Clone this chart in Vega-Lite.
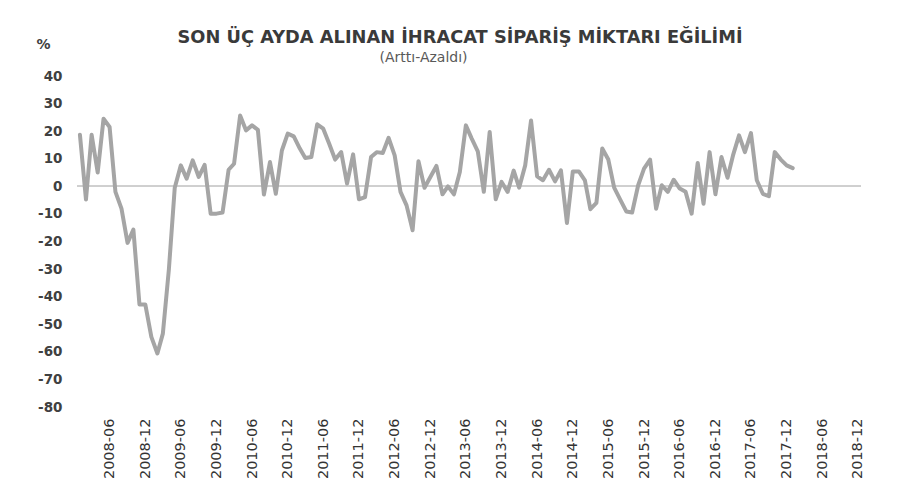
{
  "$schema": "https://vega.github.io/schema/vega-lite/v6.json",
  "width": 784,
  "height": 331,
  "autosize": {"type": "none"},
  "padding": {"left": 77, "top": 76, "right": 38, "bottom": 78},
  "background": "white",
  "title": {
    "text": "SON ÜÇ AYDA ALINAN İHRACAT SİPARİŞ MİKTARI EĞİLİMİ",
    "font": "DejaVu Sans",
    "fontSize": 17.8,
    "fontWeight": "bold",
    "color": "#3a3a3a",
    "anchor": "middle",
    "frame": "group",
    "dx": -9,
    "offset": -10
  },
  "data": {
    "values": [
      {"ay": "2008-01-01", "deger": 18.7}, {"ay": "2008-02-01", "deger": -4.8}, {"ay": "2008-03-01", "deger": 18.7}, {"ay": "2008-04-01", "deger": 5.0},
      {"ay": "2008-05-01", "deger": 24.5}, {"ay": "2008-06-01", "deger": 21.5}, {"ay": "2008-07-01", "deger": -2.0}, {"ay": "2008-08-01", "deger": -8.1},
      {"ay": "2008-09-01", "deger": -20.5}, {"ay": "2008-10-01", "deger": -15.7}, {"ay": "2008-11-01", "deger": -42.8}, {"ay": "2008-12-01", "deger": -42.8},
      {"ay": "2009-01-01", "deger": -54.6}, {"ay": "2009-02-01", "deger": -60.6}, {"ay": "2009-03-01", "deger": -53.4}, {"ay": "2009-04-01", "deger": -30.0},
      {"ay": "2009-05-01", "deger": -0.5}, {"ay": "2009-06-01", "deger": 7.6}, {"ay": "2009-07-01", "deger": 2.8}, {"ay": "2009-08-01", "deger": 9.4},
      {"ay": "2009-09-01", "deger": 3.4}, {"ay": "2009-10-01", "deger": 7.8}, {"ay": "2009-11-01", "deger": -9.9}, {"ay": "2009-12-01", "deger": -9.9},
      {"ay": "2010-01-01", "deger": -9.5}, {"ay": "2010-02-01", "deger": 6.0}, {"ay": "2010-03-01", "deger": 8.2}, {"ay": "2010-04-01", "deger": 25.7},
      {"ay": "2010-05-01", "deger": 20.3}, {"ay": "2010-06-01", "deger": 22.1}, {"ay": "2010-07-01", "deger": 20.5}, {"ay": "2010-08-01", "deger": -3.0},
      {"ay": "2010-09-01", "deger": 8.8}, {"ay": "2010-10-01", "deger": -2.7}, {"ay": "2010-11-01", "deger": 13.0}, {"ay": "2010-12-01", "deger": 19.1},
      {"ay": "2011-01-01", "deger": 18.1}, {"ay": "2011-02-01", "deger": 13.7}, {"ay": "2011-03-01", "deger": 10.3}, {"ay": "2011-04-01", "deger": 10.6},
      {"ay": "2011-05-01", "deger": 22.5}, {"ay": "2011-06-01", "deger": 20.9}, {"ay": "2011-07-01", "deger": 15.5}, {"ay": "2011-08-01", "deger": 9.7},
      {"ay": "2011-09-01", "deger": 12.4}, {"ay": "2011-10-01", "deger": 1.0}, {"ay": "2011-11-01", "deger": 11.6}, {"ay": "2011-12-01", "deger": -4.7},
      {"ay": "2012-01-01", "deger": -3.9}, {"ay": "2012-02-01", "deger": 10.6}, {"ay": "2012-03-01", "deger": 12.4}, {"ay": "2012-04-01", "deger": 12.1},
      {"ay": "2012-05-01", "deger": 17.6}, {"ay": "2012-06-01", "deger": 11.2}, {"ay": "2012-07-01", "deger": -2.0}, {"ay": "2012-08-01", "deger": -6.9},
      {"ay": "2012-09-01", "deger": -15.9}, {"ay": "2012-10-01", "deger": 9.1}, {"ay": "2012-11-01", "deger": -0.5}, {"ay": "2012-12-01", "deger": 3.4},
      {"ay": "2013-01-01", "deger": 7.4}, {"ay": "2013-02-01", "deger": -2.9}, {"ay": "2013-03-01", "deger": 0.0}, {"ay": "2013-04-01", "deger": -2.9},
      {"ay": "2013-05-01", "deger": 5.2}, {"ay": "2013-06-01", "deger": 22.1}, {"ay": "2013-07-01", "deger": 17.3}, {"ay": "2013-08-01", "deger": 12.7},
      {"ay": "2013-09-01", "deger": -2.0}, {"ay": "2013-10-01", "deger": 19.7}, {"ay": "2013-11-01", "deger": -4.7}, {"ay": "2013-12-01", "deger": 1.6},
      {"ay": "2014-01-01", "deger": -2.0}, {"ay": "2014-02-01", "deger": 5.7}, {"ay": "2014-03-01", "deger": -0.5}, {"ay": "2014-04-01", "deger": 7.6},
      {"ay": "2014-05-01", "deger": 23.9}, {"ay": "2014-06-01", "deger": 3.6}, {"ay": "2014-07-01", "deger": 2.2}, {"ay": "2014-08-01", "deger": 6.0},
      {"ay": "2014-09-01", "deger": 1.8}, {"ay": "2014-10-01", "deger": 5.8}, {"ay": "2014-11-01", "deger": -13.3}, {"ay": "2014-12-01", "deger": 5.4},
      {"ay": "2015-01-01", "deger": 5.4}, {"ay": "2015-02-01", "deger": 2.2}, {"ay": "2015-03-01", "deger": -8.3}, {"ay": "2015-04-01", "deger": -6.0},
      {"ay": "2015-05-01", "deger": 13.7}, {"ay": "2015-06-01", "deger": 9.7}, {"ay": "2015-07-01", "deger": -0.5}, {"ay": "2015-08-01", "deger": -4.8},
      {"ay": "2015-09-01", "deger": -9.1}, {"ay": "2015-10-01", "deger": -9.5}, {"ay": "2015-11-01", "deger": 0.4}, {"ay": "2015-12-01", "deger": 6.4},
      {"ay": "2016-01-01", "deger": 9.7}, {"ay": "2016-02-01", "deger": -8.1}, {"ay": "2016-03-01", "deger": 0.4}, {"ay": "2016-04-01", "deger": -2.0},
      {"ay": "2016-05-01", "deger": 2.4}, {"ay": "2016-06-01", "deger": -0.8}, {"ay": "2016-07-01", "deger": -2.0}, {"ay": "2016-08-01", "deger": -9.9},
      {"ay": "2016-09-01", "deger": 8.5}, {"ay": "2016-10-01", "deger": -6.3}, {"ay": "2016-11-01", "deger": 12.4}, {"ay": "2016-12-01", "deger": -2.9},
      {"ay": "2017-01-01", "deger": 10.6}, {"ay": "2017-02-01", "deger": 3.1}, {"ay": "2017-03-01", "deger": 11.2}, {"ay": "2017-04-01", "deger": 18.5},
      {"ay": "2017-05-01", "deger": 12.4}, {"ay": "2017-06-01", "deger": 19.3}, {"ay": "2017-07-01", "deger": 2.2}, {"ay": "2017-08-01", "deger": -2.7},
      {"ay": "2017-09-01", "deger": -3.6}, {"ay": "2017-10-01", "deger": 12.4}, {"ay": "2017-11-01", "deger": 9.7}, {"ay": "2017-12-01", "deger": 7.6},
      {"ay": "2018-01-01", "deger": 6.6}
    ]
  },
  "layer": [
    {
      "mark": {"type": "rule", "color": "#cfcfcf", "strokeWidth": 1},
      "encoding": {
        "y": {
          "datum": 0,
          "type": "quantitative",
          "scale": {"domain": [-80, 40], "nice": false, "zero": false},
          "axis": {
            "values": [-80, -70, -60, -50, -40, -30, -20, -10, 0, 10, 20, 30, 40],
            "labelExpr": "datum.value + ''",
            "labelOverlap": false,
            "labelFont": "DejaVu Sans",
            "labelFontSize": 13.5,
            "labelFontWeight": "bold",
            "labelColor": "#404040",
            "labelPadding": 15,
            "ticks": false,
            "domain": false,
            "grid": false,
            "title": "%",
            "titleAngle": 0,
            "titleX": -34,
            "titleY": -32,
            "titleAlign": "center",
            "titleBaseline": "middle",
            "titleFont": "DejaVu Sans",
            "titleFontSize": 14,
            "titleFontWeight": "bold",
            "titleColor": "#404040"
          }
        }
      }
    },
    {
      "mark": {"type": "line", "color": "#a5a5a5", "strokeWidth": 4, "strokeJoin": "round", "strokeCap": "round"},
      "encoding": {
        "x": {
          "field": "ay",
          "type": "temporal",
          "scale": {
            "type": "utc",
            "domain": [
              {"year": 2007, "month": 12, "date": 17, "utc": true},
              {"year": 2018, "month": 12, "date": 17, "utc": true}
            ]
          },
          "axis": {
            "values": [
              {"year": 2008, "month": 6, "date": 1, "utc": true},
              {"year": 2008, "month": 12, "date": 1, "utc": true},
              {"year": 2009, "month": 6, "date": 1, "utc": true},
              {"year": 2009, "month": 12, "date": 1, "utc": true},
              {"year": 2010, "month": 6, "date": 1, "utc": true},
              {"year": 2010, "month": 12, "date": 1, "utc": true},
              {"year": 2011, "month": 6, "date": 1, "utc": true},
              {"year": 2011, "month": 12, "date": 1, "utc": true},
              {"year": 2012, "month": 6, "date": 1, "utc": true},
              {"year": 2012, "month": 12, "date": 1, "utc": true},
              {"year": 2013, "month": 6, "date": 1, "utc": true},
              {"year": 2013, "month": 12, "date": 1, "utc": true},
              {"year": 2014, "month": 6, "date": 1, "utc": true},
              {"year": 2014, "month": 12, "date": 1, "utc": true},
              {"year": 2015, "month": 6, "date": 1, "utc": true},
              {"year": 2015, "month": 12, "date": 1, "utc": true},
              {"year": 2016, "month": 6, "date": 1, "utc": true},
              {"year": 2016, "month": 12, "date": 1, "utc": true},
              {"year": 2017, "month": 6, "date": 1, "utc": true},
              {"year": 2017, "month": 12, "date": 1, "utc": true},
              {"year": 2018, "month": 6, "date": 1, "utc": true},
              {"year": 2018, "month": 12, "date": 1, "utc": true}
            ],
            "format": "%Y-%m",
            "labelAngle": 270,
            "labelAlign": "right",
            "labelBaseline": "middle",
            "labelFont": "DejaVu Sans",
            "labelFontSize": 14.5,
            "labelColor": "#333333",
            "labelPadding": 11,
            "labelOverlap": false,
            "ticks": false,
            "domain": false,
            "grid": false,
            "title": "(Arttı-Azaldı)",
            "titleFont": "DejaVu Sans",
            "titleFontSize": 14,
            "titleFontWeight": "normal",
            "titleColor": "#595959",
            "titleX": 346,
            "titleY": -350,
            "titleAlign": "center",
            "titleBaseline": "middle"
          }
        },
        "y": {
          "field": "deger",
          "type": "quantitative",
          "scale": {"domain": [-80, 40], "nice": false, "zero": false},
          "axis": {
            "values": [-80, -70, -60, -50, -40, -30, -20, -10, 0, 10, 20, 30, 40],
            "labelExpr": "datum.value + ''",
            "labelOverlap": false,
            "labelFont": "DejaVu Sans",
            "labelFontSize": 13.5,
            "labelFontWeight": "bold",
            "labelColor": "#404040",
            "labelPadding": 15,
            "ticks": false,
            "domain": false,
            "grid": false,
            "title": "%",
            "titleAngle": 0,
            "titleX": -34,
            "titleY": -32,
            "titleAlign": "center",
            "titleBaseline": "middle",
            "titleFont": "DejaVu Sans",
            "titleFontSize": 14,
            "titleFontWeight": "bold",
            "titleColor": "#404040"
          }
        }
      }
    }
  ],
  "config": {"view": {"stroke": null}}
}
